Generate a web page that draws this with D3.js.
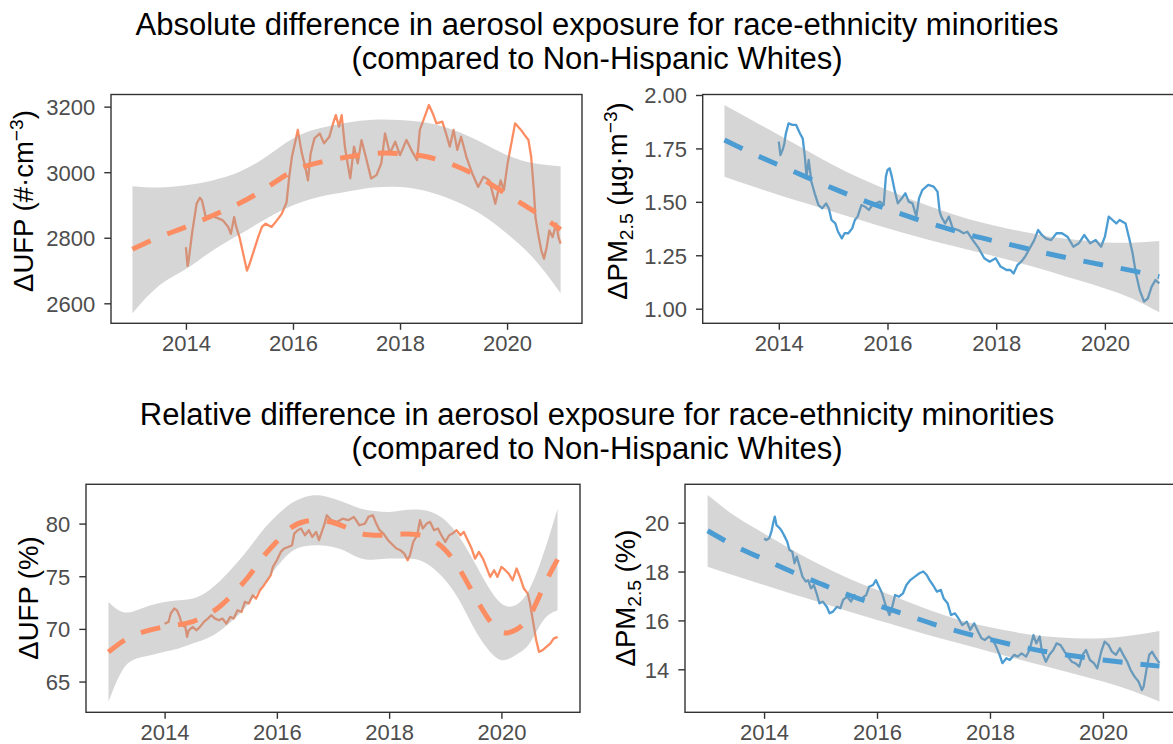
<!DOCTYPE html>
<html><head><meta charset="utf-8">
<script src="https://cdn.jsdelivr.net/npm/d3@7"></script>
<style>body{margin:0;background:#fff}svg{display:block}text{font-family:"Liberation Sans",Arial,Helvetica,sans-serif}</style>
</head><body><svg id="c" width="1173" height="744"></svg>
<script>
// ---------- DATA ----------
const xTicks = [2014, 2016, 2018, 2020];
const halfYears = [2013,2013.5,2014,2014.5,2015,2015.5,2016,2016.5,2017,2017.5,2018,2018.5,2019,2019.5,2020,2020.5,2021];
const quarterYears = [2013,2013.25,2013.5,2013.75,2014,2014.25,2014.5,2014.75,2015,2015.25,2015.5,2015.75,2016,2016.25,2016.5,2016.75,2017,2017.25,2017.5,2017.75,2018,2018.25,2018.5,2018.75,2019,2019.25,2019.5,2019.75,2020,2020.25,2020.5,2020.75,2021];

// Absolute UFP (#/cm3)
const absUfpTicks = [2600, 2800, 3000, 3200];
const absUfpLine = [[2014.00,2771],[2014.03,2714],[2014.05,2730],[2014.12,2820],[2014.20,2904],[2014.26,2922],[2014.30,2914],[2014.37,2863],[2014.44,2868],[2014.55,2863],[2014.69,2853],[2014.79,2833],[2014.84,2812],[2014.90,2863],[2014.94,2833],[2015.00,2802],[2015.07,2751],[2015.14,2700],[2015.18,2716],[2015.25,2751],[2015.35,2802],[2015.42,2833],[2015.49,2843],[2015.60,2833],[2015.70,2853],[2015.79,2873],[2015.88,2908],[2015.93,2986],[2015.98,3047],[2016.05,3098],[2016.09,3129],[2016.16,3062],[2016.23,3016],[2016.28,2975],[2016.33,3057],[2016.40,3103],[2016.50,3118],[2016.58,3088],[2016.68,3108],[2016.75,3149],[2016.80,3174],[2016.86,3139],[2016.91,3174],[2016.97,3078],[2017.01,3037],[2017.07,2981],[2017.14,3078],[2017.21,3027],[2017.28,3098],[2017.36,3047],[2017.46,2981],[2017.56,2991],[2017.65,3027],[2017.72,3118],[2017.81,3057],[2017.91,3093],[2018.00,3052],[2018.12,3098],[2018.23,3062],[2018.32,3037],[2018.37,3129],[2018.46,3169],[2018.54,3205],[2018.61,3180],[2018.68,3149],[2018.79,3154],[2018.86,3118],[2018.93,3078],[2019.00,3129],[2019.07,3068],[2019.14,3108],[2019.24,3047],[2019.35,2996],[2019.46,2955],[2019.56,2986],[2019.67,2975],[2019.78,2904],[2019.88,2975],[2019.94,2945],[2020.01,3027],[2020.08,3088],[2020.15,3149],[2020.26,3129],[2020.33,3113],[2020.40,3098],[2020.45,3047],[2020.50,2945],[2020.53,2863],[2020.58,2812],[2020.64,2761],[2020.69,2736],[2020.74,2771],[2020.79,2822],[2020.85,2802],[2020.92,2843],[2020.96,2802],[2021.00,2782]];
const absUfpFit = [2765,2802,2833,2868,2905,2952,3003,3030,3046,3057,3057,3047,3022,2983,2932,2881,2825];
const absUfpLo  = [2570,2654,2705,2761,2810,2858,2899,2925,2940,2953,2955,2942,2914,2873,2812,2736,2631];
const absUfpHi  = [2957,2953,2960,2975,3001,3047,3103,3134,3151,3160,3159,3151,3129,3093,3052,3027,3018];

// Absolute PM2.5 (ug/m3)
const absPmTicks = [1.00, 1.25, 1.50, 1.75, 2.00];
const absPmLine = [[2014.00,1.782],[2014.03,1.719],[2014.07,1.743],[2014.10,1.770],[2014.13,1.820],[2014.18,1.867],[2014.25,1.860],[2014.32,1.860],[2014.39,1.820],[2014.44,1.797],[2014.48,1.711],[2014.51,1.618],[2014.55,1.696],[2014.60,1.594],[2014.66,1.540],[2014.73,1.485],[2014.80,1.470],[2014.87,1.493],[2014.92,1.470],[2014.97,1.415],[2015.04,1.399],[2015.09,1.360],[2015.16,1.329],[2015.21,1.353],[2015.28,1.353],[2015.35,1.376],[2015.40,1.415],[2015.45,1.431],[2015.52,1.485],[2015.59,1.477],[2015.66,1.462],[2015.72,1.485],[2015.79,1.493],[2015.86,1.501],[2015.93,1.485],[2015.97,1.618],[2016.00,1.649],[2016.04,1.657],[2016.08,1.618],[2016.13,1.555],[2016.19,1.493],[2016.26,1.516],[2016.33,1.540],[2016.39,1.501],[2016.46,1.493],[2016.53,1.431],[2016.58,1.516],[2016.64,1.555],[2016.75,1.579],[2016.85,1.571],[2016.92,1.548],[2016.96,1.454],[2016.99,1.431],[2017.06,1.399],[2017.13,1.431],[2017.20,1.376],[2017.30,1.368],[2017.40,1.353],[2017.47,1.360],[2017.57,1.321],[2017.68,1.282],[2017.78,1.236],[2017.88,1.220],[2017.99,1.236],[2018.08,1.197],[2018.19,1.181],[2018.26,1.181],[2018.32,1.165],[2018.39,1.204],[2018.46,1.220],[2018.53,1.243],[2018.60,1.275],[2018.70,1.321],[2018.77,1.368],[2018.84,1.345],[2018.91,1.329],[2019.01,1.321],[2019.11,1.353],[2019.21,1.353],[2019.31,1.337],[2019.42,1.290],[2019.52,1.306],[2019.62,1.345],[2019.73,1.306],[2019.83,1.321],[2019.93,1.290],[2020.00,1.337],[2020.07,1.431],[2020.14,1.415],[2020.21,1.399],[2020.27,1.415],[2020.38,1.399],[2020.44,1.337],[2020.51,1.259],[2020.57,1.165],[2020.64,1.087],[2020.72,1.033],[2020.79,1.048],[2020.86,1.103],[2020.93,1.134],[2021.00,1.119]];
const absPmFit = [1.789,1.728,1.672,1.617,1.563,1.512,1.466,1.422,1.383,1.346,1.315,1.285,1.255,1.228,1.203,1.178,1.150];
const absPmLo  = [1.618,1.574,1.532,1.493,1.454,1.415,1.376,1.340,1.306,1.275,1.243,1.209,1.173,1.134,1.095,1.048,0.983];
const absPmHi  = [1.953,1.883,1.813,1.743,1.672,1.610,1.555,1.505,1.459,1.418,1.387,1.360,1.337,1.321,1.310,1.309,1.317];

// Relative UFP (%)
const relUfpTicks = [65, 70, 75, 80];
const relUfpLine = [[2014.00,70.50],[2014.07,70.66],[2014.11,71.46],[2014.17,71.93],[2014.22,71.77],[2014.27,71.14],[2014.31,70.35],[2014.37,70.19],[2014.40,69.24],[2014.43,69.87],[2014.50,70.19],[2014.57,69.87],[2014.63,70.19],[2014.70,70.66],[2014.77,70.98],[2014.83,71.30],[2014.90,70.98],[2014.97,70.82],[2015.03,70.98],[2015.10,70.50],[2015.17,71.14],[2015.23,70.98],[2015.30,71.77],[2015.37,71.61],[2015.43,72.56],[2015.50,72.41],[2015.57,73.20],[2015.63,72.88],[2015.70,73.67],[2015.77,74.15],[2015.83,74.62],[2015.89,75.09],[2015.93,75.89],[2016.00,76.52],[2016.07,77.31],[2016.13,77.63],[2016.20,77.78],[2016.27,77.94],[2016.31,79.05],[2016.37,79.37],[2016.43,79.53],[2016.50,78.89],[2016.57,79.37],[2016.63,78.73],[2016.70,79.21],[2016.75,78.42],[2016.80,79.21],[2016.85,80.00],[2016.89,80.79],[2016.97,80.32],[2017.07,80.16],[2017.17,80.47],[2017.27,80.32],[2017.37,80.63],[2017.47,79.84],[2017.57,80.00],[2017.63,80.63],[2017.71,80.79],[2017.77,80.00],[2017.83,79.37],[2017.90,79.05],[2017.98,78.42],[2018.07,77.94],[2018.13,77.63],[2018.20,77.47],[2018.27,77.15],[2018.33,76.52],[2018.37,76.99],[2018.43,78.26],[2018.50,78.89],[2018.55,80.32],[2018.60,79.53],[2018.67,80.00],[2018.73,80.16],[2018.80,79.37],[2018.87,79.53],[2018.93,78.89],[2019.00,78.26],[2019.07,78.89],[2019.13,79.05],[2019.20,79.37],[2019.27,78.89],[2019.33,79.21],[2019.40,78.42],[2019.47,77.63],[2019.53,76.68],[2019.60,77.31],[2019.67,76.68],[2019.73,75.89],[2019.80,74.94],[2019.87,75.57],[2019.93,74.94],[2020.00,75.89],[2020.07,75.57],[2020.13,75.25],[2020.20,74.62],[2020.27,75.73],[2020.33,74.94],[2020.40,73.83],[2020.47,73.35],[2020.51,72.41],[2020.57,70.50],[2020.62,68.92],[2020.67,67.82],[2020.73,67.97],[2020.80,68.29],[2020.87,68.61],[2020.93,69.08],[2021.00,69.24]];
const relUfpFit = [67.8,68.8,69.5,69.9,70.2,70.4,70.7,71.3,72.2,73.5,75.0,76.8,78.3,79.6,80.2,80.3,80.1,79.6,79.05,78.9,78.9,79.0,78.95,78.5,77.5,75.7,73.35,71.1,69.7,69.9,71.2,74.0,76.6];
const relUfpLo  = [63.07,66.08,67.18,67.5,67.82,68.13,68.61,69.08,69.87,70.98,72.41,74.15,75.89,77.31,77.85,77.94,77.78,77.31,76.68,76.58,76.68,76.68,76.58,75.89,74.62,72.72,70.19,68.13,67.03,67.5,68.61,70.82,71.77];
const relUfpHi  = [72.56,71.6,71.77,72.25,72.56,72.72,72.88,73.51,74.62,76.04,77.63,79.37,80.79,81.9,82.53,82.69,82.37,81.9,81.42,81.2,81.11,81.27,81.33,81.11,80.32,78.73,76.52,74.15,72.41,72.25,73.77,77.15,81.42];

// Relative PM2.5 (%)
const relPmTicks = [14, 16, 18, 20];
const relPmLine = [[2014.00,19.36],[2014.04,19.29],[2014.09,19.36],[2014.13,19.63],[2014.16,19.97],[2014.19,20.25],[2014.22,19.90],[2014.28,19.77],[2014.32,19.63],[2014.35,19.50],[2014.41,19.22],[2014.45,18.88],[2014.50,18.81],[2014.54,18.34],[2014.58,18.61],[2014.63,18.20],[2014.68,17.79],[2014.74,17.59],[2014.78,17.65],[2014.83,17.31],[2014.88,17.45],[2014.93,17.11],[2014.98,16.70],[2015.04,16.77],[2015.11,16.56],[2015.16,16.29],[2015.22,16.36],[2015.29,16.56],[2015.35,16.50],[2015.40,16.84],[2015.47,16.97],[2015.54,16.77],[2015.60,17.04],[2015.67,16.84],[2015.73,16.90],[2015.81,17.04],[2015.86,17.38],[2015.93,17.45],[2015.98,17.65],[2016.02,17.45],[2016.09,17.11],[2016.15,16.63],[2016.22,16.22],[2016.27,16.56],[2016.32,17.04],[2016.39,16.97],[2016.46,17.11],[2016.52,17.45],[2016.59,17.65],[2016.67,17.79],[2016.75,17.93],[2016.82,18.00],[2016.88,17.86],[2016.93,17.65],[2016.99,17.45],[2017.06,17.18],[2017.13,17.25],[2017.18,16.90],[2017.25,16.70],[2017.31,16.22],[2017.38,16.29],[2017.44,16.09],[2017.51,15.81],[2017.59,15.95],[2017.65,15.61],[2017.72,15.88],[2017.79,15.54],[2017.85,15.27],[2017.91,15.20],[2017.98,15.34],[2018.05,15.20],[2018.11,14.93],[2018.17,14.59],[2018.22,14.25],[2018.29,14.45],[2018.35,14.38],[2018.43,14.59],[2018.49,14.52],[2018.56,14.65],[2018.64,14.52],[2018.70,14.79],[2018.77,15.40],[2018.82,15.06],[2018.88,15.34],[2018.92,14.72],[2018.99,14.31],[2019.05,14.59],[2019.12,14.79],[2019.18,15.06],[2019.25,14.99],[2019.32,14.72],[2019.38,14.52],[2019.45,14.31],[2019.51,14.25],[2019.58,14.11],[2019.64,14.59],[2019.70,14.79],[2019.77,14.38],[2019.84,14.25],[2019.90,14.04],[2019.97,14.72],[2020.03,15.13],[2020.10,14.99],[2020.16,14.72],[2020.23,14.59],[2020.30,14.86],[2020.36,14.59],[2020.43,14.31],[2020.49,13.97],[2020.56,13.70],[2020.63,13.50],[2020.69,13.15],[2020.72,13.29],[2020.78,14.11],[2020.82,14.59],[2020.87,14.72],[2020.92,14.52],[2021.00,14.25]];
const relPmFit = [19.67,19.03,18.50,17.98,17.50,17.04,16.63,16.24,15.85,15.51,15.22,14.95,14.72,14.54,14.38,14.25,14.13];
const relPmLo  = [18.20,17.82,17.45,17.08,16.73,16.36,16.02,15.68,15.34,15.04,14.72,14.41,14.11,13.81,13.50,13.13,12.68];
const relPmHi  = [21.13,20.25,19.56,18.88,18.27,17.72,17.25,16.80,16.36,15.99,15.72,15.50,15.34,15.27,15.27,15.38,15.57];

const titles = [
  ["Absolute difference in aerosol exposure for race-ethnicity minorities", "(compared to Non-Hispanic Whites)"],
  ["Relative difference in aerosol exposure for race-ethnicity minorities", "(compared to Non-Hispanic Whites)"]
];

// ---------- STYLE / LAYOUT ----------
const ORANGE = "#FC8D62", BLUE = "#4B9CD3";
const TICK_FS = 22, AXT_FS = 27.5, TITLE_FS = 31;

const panels = [
  {line: absUfpLine, fx: halfYears, fit: absUfpFit, lo: absUfpLo, hi: absUfpHi, ticks: absUfpTicks, fmt: d3.format("d"), color: ORANGE,
   box: {l: 111, r: 582, t: 94.5, b: 323.3}, yDom: [2539, 3237], label: "ufpAbs", lab: {x: 33, y: 201}},
  {line: absPmLine, fx: halfYears, fit: absPmFit, lo: absPmLo, hi: absPmHi, ticks: absPmTicks, fmt: d3.format(".2f"), color: BLUE,
   box: {l: 702.7, r: 1181, t: 94.5, b: 323.3}, yDom: [0.9317, 2.0023], label: "pmAbs", lab: {x: 627, y: 201}},
  {line: relUfpLine, fx: quarterYears, fit: relUfpFit, lo: relUfpLo, hi: relUfpHi, ticks: relUfpTicks, fmt: d3.format("d"), color: ORANGE,
   box: {l: 86, r: 580, t: 484.3, b: 712.3}, yDom: [62.08, 83.73], label: "ufpRel", lab: {x: 37.5, y: 598}},
  {line: relPmLine, fx: halfYears, fit: relPmFit, lo: relPmLo, hi: relPmHi, ticks: relPmTicks, fmt: d3.format("d"), color: BLUE,
   box: {l: 685, r: 1182, t: 484.3, b: 712.3}, yDom: [12.24, 21.57], label: "pmRel", lab: {x: 635, y: 598}}
];

const svg = d3.select("#c");
svg.append("rect").attr("width", 1173).attr("height", 744).attr("fill", "#fff");

// titles (two separate lines)
const titleY = [34.6, 424.6];
titles.forEach((t, i) => {
  svg.append("text").attr("text-anchor", "middle").attr("font-size", TITLE_FS).attr("fill", "#000")
    .attr("x", 597).attr("y", titleY[i]).text(t[0]);
  svg.append("text").attr("text-anchor", "middle").attr("font-size", TITLE_FS).attr("fill", "#000")
    .attr("x", 597).attr("y", titleY[i] + 34.8).text(t[1]);
});

function yLabel(g, kind) {
  const sub = AXT_FS * 0.7;
  const add = (txt, opts = {}) => {
    const s = g.append("tspan").text(txt);
    if (opts.fs) s.attr("font-size", opts.fs);
    if (opts.dy !== undefined) s.attr("dy", opts.dy);
    return s;
  };
  if (kind === "ufpAbs") {
    add("\u0394UFP (#\u00B7cm"); add("\u22123", {fs: sub, dy: -AXT_FS * 0.38}); add(")", {dy: AXT_FS * 0.38});
  } else if (kind === "pmAbs") {
    add("\u0394PM"); add("2.5", {fs: sub, dy: AXT_FS * 0.2}); add(" (\u00B5g\u00B7m", {dy: -AXT_FS * 0.2});
    add("\u22123", {fs: sub, dy: -AXT_FS * 0.38}); add(")", {dy: AXT_FS * 0.38});
  } else if (kind === "ufpRel") {
    add("\u0394UFP (%)");
  } else {
    add("\u0394PM"); add("2.5", {fs: sub, dy: AXT_FS * 0.2}); add(" (%)", {dy: -AXT_FS * 0.2});
  }
}

panels.forEach(p => {
  const B = p.box;
  const x = d3.scaleLinear().domain([2012.6, 2021.4]).range([B.l, B.r]);
  const y = d3.scaleLinear().domain(p.yDom).range([B.b, B.t]);
  const g = svg.append("g");

  const clipId = "clip" + p.label;
  g.append("clipPath").attr("id", clipId).append("rect")
    .attr("x", B.l).attr("y", B.t).attr("width", B.r - B.l).attr("height", B.b - B.t);
  const inner = g.append("g").attr("clip-path", `url(#${clipId})`);

  // data line
  inner.append("path").datum(p.line)
    .attr("d", d3.line().x(d => x(d[0])).y(d => y(d[1])))
    .attr("fill", "none").attr("stroke", p.color).attr("stroke-width", 2.3).attr("stroke-linejoin", "round");

  // ribbon
  const rib = p.fx.map((yr, i) => ({yr, lo: p.lo[i], hi: p.hi[i], fit: p.fit[i]}));
  inner.append("path").datum(rib)
    .attr("d", d3.area().curve(d3.curveNatural).x(d => x(d.yr)).y0(d => y(d.lo)).y1(d => y(d.hi)))
    .attr("fill", "#999999").attr("fill-opacity", 0.4);

  // smooth dashed fit
  inner.append("path").datum(rib)
    .attr("d", d3.line().curve(d3.curveNatural).x(d => x(d.yr)).y(d => y(d.fit)))
    .attr("fill", "none").attr("stroke", p.color).attr("stroke-width", 5).attr("stroke-dasharray", "20,18");

  // frame
  g.append("rect").attr("x", B.l).attr("y", B.t).attr("width", B.r - B.l).attr("height", B.b - B.t)
    .attr("fill", "none").attr("stroke", "#333").attr("stroke-width", 1.4);

  // x axis
  const xa = g.append("g").attr("transform", `translate(0,${B.b})`)
    .call(d3.axisBottom(x).tickValues(xTicks).tickFormat(d3.format("d")).tickSize(6.5).tickPadding(7));
  xa.select(".domain").remove();
  xa.selectAll("line").attr("stroke", "#333").attr("stroke-width", 1.4);
  xa.selectAll("text").attr("font-size", TICK_FS).attr("fill", "#4d4d4d").attr("font-family", null)
    .attr("dy", null).attr("y", 28);

  // y axis
  const ya = g.append("g").attr("transform", `translate(${B.l},0)`)
    .call(d3.axisLeft(y).tickValues(p.ticks).tickFormat(p.fmt).tickSize(6.7).tickPadding(9));
  ya.select(".domain").remove();
  ya.selectAll("line").attr("stroke", "#333").attr("stroke-width", 1.4);
  ya.selectAll("text").attr("font-size", TICK_FS).attr("fill", "#4d4d4d").attr("font-family", null).attr("dy", "0.36em");

  // y label
  const lt = g.append("text").attr("text-anchor", "middle").attr("font-size", AXT_FS).attr("fill", "#000")
    .attr("transform", `translate(${p.lab.x},${p.lab.y}) rotate(-90)`);
  yLabel(lt, p.label);
});
</script></body></html>
